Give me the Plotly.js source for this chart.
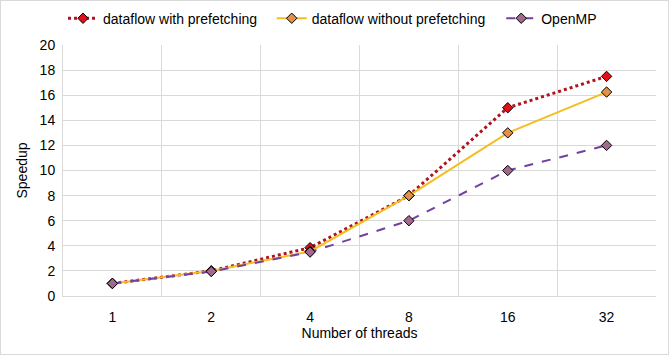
<!DOCTYPE html>
<html>
<head>
<meta charset="utf-8">
<script src="https://cdn.plot.ly/plotly-3.0.1.min.js"></script>
<style>
  body { margin: 0; background: #fff; }
  #myDiv { width: 667px; height: 353px; border: 1px solid #d9d9d9; }
</style>
</head>
<body>
<div id="myDiv"></div>
<script>
var threads = ['1', '2', '4', '8', '16', '32'];
var withPrefetch = [1, 2, 3.85, 8, 15, 17.5];
var withoutPrefetch = [1, 2, 3.55, 8, 13, 16.25];
var openmp = [1, 1.95, 3.5, 6, 10, 12];

var redLine = {
	x: threads,
	y: withPrefetch,
	name: 'dataflow with prefetching',
	legend: 'legend',
	type: 'scatter',
	mode: 'lines+markers',
	line: { color: '#b0131c', width: 3, dash: 'dot' },
	marker: { symbol: 'diamond', size: 8, color: '#e0101a', line: { color: '#000', width: 1 } }
};

var goldLine = {
	x: threads,
	y: withoutPrefetch,
	name: 'dataflow without prefetching',
	legend: 'legend2',
	type: 'scatter',
	mode: 'lines+markers',
	line: { color: '#f5bd1f', width: 2 },
	marker: { symbol: 'diamond', size: 8, color: '#e39148', line: { color: '#000', width: 1 } }
};

var purpleLine = {
	x: threads,
	y: openmp,
	name: 'OpenMP',
	legend: 'legend3',
	type: 'scatter',
	mode: 'lines+markers',
	line: { color: '#7240a0', width: 2, dash: 'dash' },
	marker: { symbol: 'diamond', size: 8, color: '#a3688f', line: { color: '#000', width: 1 } }
};

var data = [redLine, goldLine, purpleLine];

function legendAt(x) {
	return {
		orientation: 'h',
		x: x,
		xanchor: 'left',
		y: 1.105,
		yanchor: 'middle',
		font: { size: 14 },
		itemwidth: 30,
		bgcolor: 'rgba(0,0,0,0)'
	};
}

var layout = {
	width: 667,
	height: 353,
	margin: { l: 62, r: 12, t: 44, b: 58, autoexpand: false },
	font: { family: 'Liberation Sans, Arial, sans-serif', size: 14, color: '#000' },
	showlegend: true,
	legend: legendAt(0),
	legend2: legendAt(0.352),
	legend3: legendAt(0.739),
	xaxis: {
		type: 'category',
		range: [-0.5, 5.5],
		tickson: 'boundaries',
		showgrid: true,
		gridcolor: '#d9d9d9',
		showline: true,
		linecolor: '#d9d9d9',
		ticks: '',
		zeroline: false,
		ticklabelstandoff: 8,
		title: { text: 'Number of threads', font: { size: 14 }, standoff: 3 }
	},
	yaxis: {
		range: [0, 20],
		dtick: 2,
		showgrid: true,
		gridcolor: '#d9d9d9',
		showline: true,
		linecolor: '#d9d9d9',
		zeroline: false,
		ticks: '',
		ticklabelstandoff: 4,
		title: { text: 'Speedup', font: { size: 14 }, standoff: 8 }
	},
	plot_bgcolor: '#fff',
	paper_bgcolor: '#fff'
};

Plotly.newPlot('myDiv', data, layout, { displayModeBar: false });
</script>
</body>
</html>
